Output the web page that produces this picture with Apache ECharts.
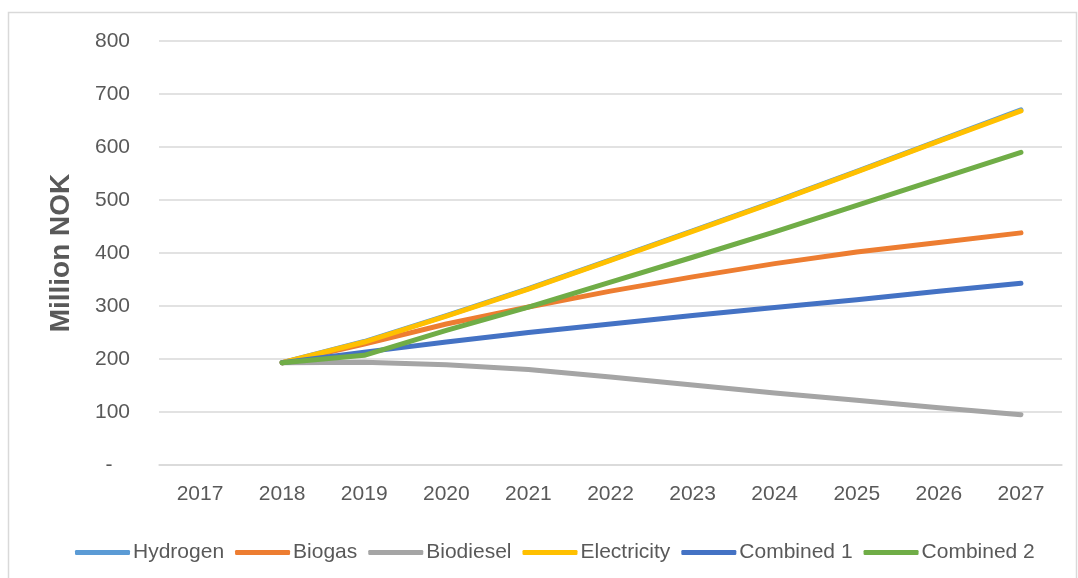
<!DOCTYPE html>
<html>
<head>
<meta charset="utf-8">
<script src="https://cdn.jsdelivr.net/npm/echarts@6/dist/echarts.min.js"></script>
<style>
  html, body { margin: 0; padding: 0; background: #fff; }
  #chart { width: 1078px; height: 578px; }
</style>
</head>
<body>
<div id="chart"></div>
<script>
// Years on the category axis
const years = ['2017', '2018', '2019', '2020', '2021', '2022', '2023', '2024', '2025', '2026', '2027'];

// Cost projections, million NOK (no value for 2017)
const hydrogen    = [null, 193, 233, 282, 333, 387, 442, 497, 554, 612, 670];
const biogas      = [null, 193, 228, 266, 298, 328, 355, 380, 402, 420, 438];
const biodiesel   = [null, 193, 194, 189, 180, 166, 151, 136, 122, 108, 95];
const electricity = [null, 193, 232, 281, 332, 386, 441, 496, 553, 611, 668];
const combined1   = [null, 193, 213, 232, 250, 266, 282, 297, 312, 328, 343];
const combined2   = [null, 193, 207, 254, 298, 345, 392, 440, 490, 540, 590];

const seriesNames  = ['Hydrogen', 'Biogas', 'Biodiesel', 'Electricity', 'Combined 1', 'Combined 2'];
const seriesData   = [hydrogen, biogas, biodiesel, electricity, combined1, combined2];
const seriesColors = ['#5B9BD5', '#ED7D31', '#A5A5A5', '#FFC000', '#4472C4', '#70AD47'];

const textColor = '#595959';
const font = 'Liberation Sans';

const chart = echarts.init(document.getElementById('chart'));

chart.setOption({
  animation: false,
  backgroundColor: '#fff',
  textStyle: { fontFamily: font, color: textColor },
  graphic: [{
    type: 'rect',
    shape: { x: 8.5, y: 12.5, width: 1068, height: 620 },
    style: { fill: 'none', stroke: '#D9D9D9', lineWidth: 1.5 },
    silent: true
  }],
  grid: { left: 159, right: 16, top: 41, bottom: 113 },
  legend: {
    top: 537,
    left: 70,
    icon: 'roundRect',
    itemWidth: 55,
    itemHeight: 5,
    itemGap: 11,
    textStyle: { fontFamily: font, fontSize: 21, color: textColor, padding: [0, 0, 0, -2] },
    data: seriesNames
  },
  xAxis: {
    type: 'category',
    data: years,
    boundaryGap: true,
    axisLine: { show: true, lineStyle: { color: '#D9D9D9', width: 1.5 } },
    axisTick: { show: false },
    axisLabel: { fontFamily: font, fontSize: 21, color: textColor, margin: 19 }
  },
  yAxis: {
    type: 'value',
    min: 0,
    max: 800,
    interval: 100,
    name: 'Million NOK',
    nameLocation: 'middle',
    nameGap: 84,
    nameTextStyle: { fontFamily: font, fontSize: 28, fontWeight: 'bold', color: textColor },
    axisLine: { show: false },
    axisTick: { show: false },
    splitLine: { lineStyle: { color: '#D9D9D9', width: 1.5 } },
    axisLabel: {
      fontFamily: font, fontSize: 21, color: textColor, margin: 29,
      formatter: v => (v === 0 ? '-   ' : String(v))
    }
  },
  series: seriesNames.map((name, i) => ({
    name,
    type: 'line',
    data: seriesData[i],
    symbol: 'none',
    smooth: false,
    color: seriesColors[i],
    lineStyle: { width: 5, color: seriesColors[i], cap: 'round', join: 'round' }
  }))
});
</script>
</body>
</html>
